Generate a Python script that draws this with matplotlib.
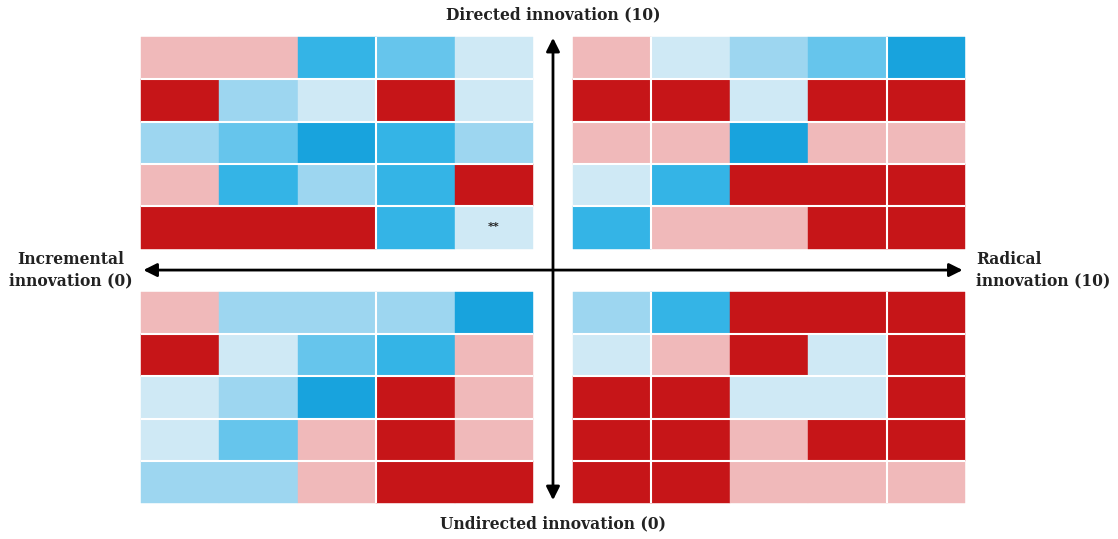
import matplotlib.pyplot as plt
from matplotlib.patches import Rectangle

# colour levels: R = dark red, P = pink, B1..B5 = light -> dark blue
palette = {
    "R": "#C61518",
    "P": "#F0B9BA",
    "B1": "#CFE9F5",
    "B2": "#9DD6F0",
    "B3": "#66C5EC",
    "B4": "#34B4E6",
    "B5": "#18A3DD",
}

top_left = [
    ["P", "P", "B4", "B3", "B1"],
    ["R", "B2", "B1", "R", "B1"],
    ["B2", "B3", "B5", "B4", "B2"],
    ["P", "B4", "B2", "B4", "R"],
    ["R", "R", "R", "B4", "B1"],
]
top_right = [
    ["P", "B1", "B2", "B3", "B5"],
    ["R", "R", "B1", "R", "R"],
    ["P", "P", "B5", "P", "P"],
    ["B1", "B4", "R", "R", "R"],
    ["B4", "P", "P", "R", "R"],
]
bottom_left = [
    ["P", "B2", "B2", "B2", "B5"],
    ["R", "B1", "B3", "B4", "P"],
    ["B1", "B2", "B5", "R", "P"],
    ["B1", "B3", "P", "R", "P"],
    ["B2", "B2", "P", "R", "R"],
]
bottom_right = [
    ["B2", "B4", "R", "R", "R"],
    ["B1", "P", "R", "B1", "R"],
    ["R", "R", "B1", "B1", "R"],
    ["R", "R", "P", "R", "R"],
    ["R", "R", "P", "P", "P"],
]
# marked cell (quadrant, row, col, text)
marks = [("top_left", 4, 4, "**")]

x_labels = ["Incremental\ninnovation (0)", "Radical\ninnovation (10)"]
y_labels = ["Directed innovation (10)", "Undirected innovation (0)"]

gx = 0.51  # gap between quadrants, in cell widths
gy = 1.02  # gap between quadrants, in cell heights
px_x = 78.4
px_y = 42.3

fig = plt.figure(figsize=(11.18, 5.39), dpi=100)
ax = fig.add_axes([0, 0, 1, 1])
ax.set_xlim(-141 / px_x, (1118 - 141) / px_x)
ax.set_ylim((539 - 37) / px_y, -37 / px_y)
ax.axis("off")

quads = {
    "top_left": (top_left, 0, 0),
    "top_right": (top_right, 5 + gx, 0),
    "bottom_left": (bottom_left, 0, 5 + gy),
    "bottom_right": (bottom_right, 5 + gx, 5 + gy),
}
# white separators seen in the original: every row, only some columns
col_seps = {"top_left": [3], "bottom_left": [3],
            "top_right": [1, 4], "bottom_right": [1, 4]}
for name, (grid, x0, y0) in quads.items():
    for i, row in enumerate(grid):
        for j, c in enumerate(row):
            ax.add_patch(Rectangle((x0 + j, y0 + i), 1, 1, facecolor=palette[c],
                                   edgecolor=palette[c], linewidth=0.3))
    ax.hlines([y0 + k for k in range(1, 5)], x0, x0 + 5, color="white", lw=1.5)
    ax.vlines([x0 + k for k in col_seps[name]], y0, y0 + 5, color="white", lw=1.5)

for name, i, j, t in marks:
    grid, x0, y0 = quads[name]
    ax.text(x0 + j + 0.5, y0 + i + 0.5, t, ha="center", va="center",
            fontsize=8, fontweight="bold", color="#222222")

cx = 5 + gx / 2
cy = 5 + gy / 2
arrow = dict(arrowstyle="<|-|>", color="black", lw=2, mutation_scale=20,
             shrinkA=0, shrinkB=0)
ax.annotate("", xy=(0.03, cy), xytext=(10 + gx - 0.03, cy), arrowprops=arrow)
ax.annotate("", xy=(cx, 0.02), xytext=(cx, 10 + gy - 0.07), arrowprops=arrow)

font = dict(family="DejaVu Serif", fontweight="bold", fontsize=11.2, color="#222222")
ax.text(cx, -22 / px_y, y_labels[0], ha="center", va="center", **font)
ax.text(cx, 10 + gy + 21 / px_y, y_labels[1], ha="center", va="center", **font)
ax.text(-70 / px_x, cy, x_labels[0], ha="center", va="center", linespacing=1.3, **font)
ax.text(10 + gx + 11 / px_x, cy, x_labels[1], ha="left", va="center", linespacing=1.3, **font)

fig.savefig("out.png", dpi=100)
